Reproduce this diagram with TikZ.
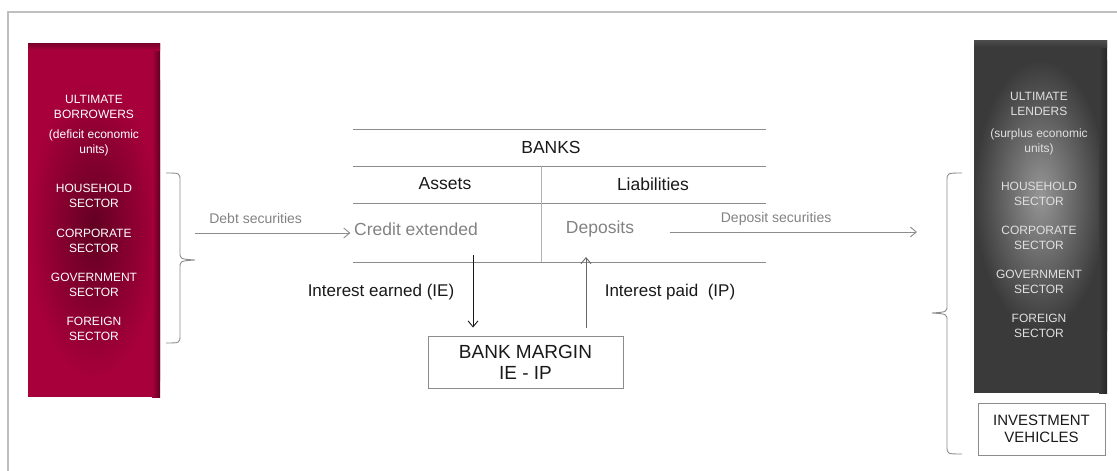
\documentclass[tikz,border=0pt]{standalone}
\usepackage{fontspec}
\setmainfont{Liberation Sans}
\usetikzlibrary{arrows.meta, positioning, calc}

\definecolor{crimson}{RGB}{168,0,58}
\definecolor{darkcrimson}{RGB}{98,0,34}
\definecolor{slate}{RGB}{58,58,58}
\definecolor{paleslate}{RGB}{150,150,150}
\definecolor{linegray}{RGB}{140,140,140}
\definecolor{textgray}{RGB}{130,130,130}

\tikzset{
  sectortext/.style={text=white, font=\fontsize{12}{15}\selectfont, align=center, inner sep=0pt},
  lendertext/.style={sectortext, text=white!88!black},
  tabletext/.style={font=\fontsize{17.5}{20}\selectfont, text=black!90},
  flowtext/.style={font=\fontsize{17.5}{20}\selectfont, text=textgray},
  flowlabel/.style={font=\fontsize{14}{16}\selectfont, text=textgray},
  interestlabel/.style={font=\fontsize{17}{20}\selectfont, text=black!90},
  plainbox/.style={draw=linegray, line width=0.9pt, align=center, text=black!90},
  flow/.style={line width=0.9pt, -{Straight Barb[length=6pt, width=10pt]}}
}

\begin{document}
\begin{tikzpicture}[x=1pt, y=-1pt, line width=0.9pt]
\useasboundingbox (0,0) rectangle (1117,471);

% Frame
\draw[black!25, line width=1.2pt] (8,480) -- (8,12) -- (1125,12);

% Ultimate borrowers
\fill[crimson] (28,43) rectangle (160,397);
\shade[inner color=darkcrimson, outer color=crimson] (28,80) rectangle (160,380);
\shade[left color=crimson, right color=darkcrimson] (152,43) rectangle (160,397);
\shade[top color=darkcrimson!70!crimson, bottom color=crimson] (28,43) rectangle (160,50);
\node[sectortext] (borrowers) at (94,106.5) {ULTIMATE\\BORROWERS};
\node[sectortext] (deficit) at (94,143) {(deficit economic\\units)};
\node[sectortext] (hhleft) at (94,195.5) {HOUSEHOLD\\SECTOR};
\node[sectortext] (corpleft) at (94,240.5) {CORPORATE\\SECTOR};
\node[sectortext] (govleft) at (94,284.5) {GOVERNMENT\\SECTOR};
\node[sectortext] (forleft) at (94,328.5) {FOREIGN\\SECTOR};

% Ultimate lenders
\fill[slate] (974,40) rectangle (1107,393);
\shade[inner color=paleslate, outer color=slate] (974,60) rectangle (1107,330);
\shade[left color=slate, right color=black!85] (1099,40) rectangle (1107,393);
\shade[top color=black!70, bottom color=slate] (974,40) rectangle (1107,47);
\node[lendertext] (lenders) at (1039,104) {ULTIMATE\\LENDERS};
\node[lendertext] (surplus) at (1039,142) {(surplus economic\\units)};
\node[lendertext] (hhright) at (1039,193.5) {HOUSEHOLD\\SECTOR};
\node[lendertext] (corpright) at (1039,237.5) {CORPORATE\\SECTOR};
\node[lendertext] (govright) at (1039,281.5) {GOVERNMENT\\SECTOR};
\node[lendertext] (forright) at (1039,325.5) {FOREIGN\\SECTOR};
\node[plainbox, minimum width=127pt, minimum height=52pt, font=\fontsize{15}{17}\selectfont]
  (vehicles) at (1041.5,429) {INVESTMENT\\VEHICLES};

% Braces
\draw[linegray] (166,173) .. controls (180,173) .. (180,181) -- (180,252)
  .. controls (180,259) .. (195,260) coordinate (lefttip)
  .. controls (180,261) .. (180,268) -- (180,335) .. controls (180,343) .. (166,343);
\draw[linegray] (962,173) .. controls (947,173) .. (947,181) -- (947,305)
  .. controls (947,312) .. (932,313) coordinate (righttip)
  .. controls (947,314) .. (947,321) -- (947,446) .. controls (947,454) .. (962,454);

% Banks balance sheet
\draw[linegray] (353,129) -- (766,129);
\draw[linegray] (353,166) -- (766,166);
\draw[linegray] (353,203) -- (766,203);
\draw[linegray] (353,262) -- (766,262);
\draw[black!30] (541,166) -- (541,262);
\node[tabletext] (banks) at (551,147) {BANKS};
\node[tabletext] (assets) at (445,184) {Assets};
\node[tabletext] (liabilities) at (653,184) {Liabilities};
\node[flowtext] (credit) at (416,229) {Credit extended};
\node[flowtext] (deposits) at (600,229) {Deposits};

% Securities flows
\coordinate (debtstart) at (195,233);
\coordinate (depositend) at (917,232);
\draw[flow, linegray] (debtstart) -- (debtstart -| credit.west)
  node[flowlabel, above, pos=0.39, yshift=6pt] {Debt securities};
\draw[flow, linegray] ([xshift=32pt]deposits.east |- depositend) -- (depositend)
  node[flowlabel, above, pos=0.43, yshift=3pt] {Deposit securities};

% Bank margin
\node[plainbox, minimum width=195pt, minimum height=52pt, font=\fontsize{19}{21}\selectfont]
  (margin) at (525.5,362) {BANK MARGIN\\IE - IP};
\coordinate (iestart) at (473,255);
\coordinate (ipend) at (586,257);
\draw[flow, black!90, shorten >=8pt] (iestart) -- (iestart |- margin.north);
\draw[flow, black!60, shorten <=8pt] (ipend |- margin.north) -- (ipend);
\node[interestlabel] (earned) at (381,292) {Interest earned (IE)};
\node[interestlabel] (paid) at (670,292) {Interest paid\ \ (IP)};
\end{tikzpicture}
\end{document}
